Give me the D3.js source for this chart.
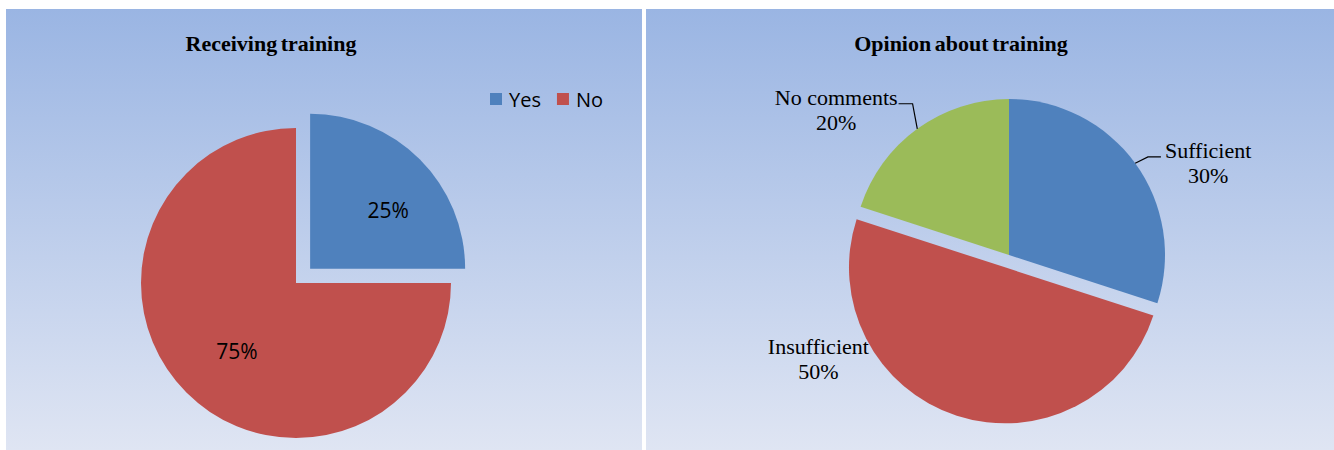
<!DOCTYPE html>
<html>
<head>
<meta charset="utf-8">
<script src="https://cdn.jsdelivr.net/npm/d3@7"></script>
<style>
  html, body { margin: 0; padding: 0; background: #ffffff; }
  svg { display: block; }
</style>
</head>
<body>
<svg id="chart" width="1334" height="450"></svg>
<script>
// ---- data ----
const trainingCategories = ["Yes", "No"];
const trainingValues = [25, 75];

const opinionCategories = ["Sufficient", "Insufficient", "No comments"];
const opinionValues = [30, 50, 20];

const trainingTitle = "Receiving training";
const opinionTitle = "Opinion about training";

// ---- styling ----
const sliceColors = {
  "Yes": "#4f81bd", "No": "#c0504d",
  "Sufficient": "#4f81bd", "Insufficient": "#c0504d", "No comments": "#9bbb59"
};

const svg = d3.select("#chart");
const defs = svg.append("defs");
const grad = defs.append("linearGradient")
  .attr("id", "panelFill").attr("x1", 0).attr("y1", 0).attr("x2", 0).attr("y2", 1);
grad.append("stop").attr("offset", "0%").attr("stop-color", "#9ab5e3");
grad.append("stop").attr("offset", "100%").attr("stop-color", "#dfe5f3");

const toRad = d => d * Math.PI / 180;
const polar = (cx, cy, angDeg, dist) => [cx + dist * Math.sin(toRad(angDeg)), cy - dist * Math.cos(toRad(angDeg))];

function panel(x, y, w, h) {
  svg.append("rect").attr("x", x).attr("y", y).attr("width", w).attr("height", h)
    .attr("fill", "url(#panelFill)");
}

function title(text, x, y) {
  svg.append("text").attr("x", x).attr("y", y)
    .attr("text-anchor", "middle")
    .attr("font-family", "'Liberation Serif', 'Times New Roman', serif")
    .attr("font-weight", "bold").attr("font-size", 22)
    .attr("word-spacing", -2)
    .attr("fill", "#000").text(text);
}

const pie = d3.pie().sort(null).value(d => d.value);

// ---- left panel: Receiving training ----
panel(6, 9, 636, 441);
title(trainingTitle, 271, 51);

{
  const cx = 296, cy = 283, r = 155;
  const explode = { "Yes": 20, "No": 0 };
  // label position: [angle in degrees, distance as fraction of radius]
  const labelPlace = { "Yes": [53, 0.63], "No": [221, 0.58] };
  const data = trainingCategories.map((c, i) => ({ cat: c, value: trainingValues[i] }));
  const arcs = pie(data);
  const arc = d3.arc().innerRadius(0).outerRadius(r);
  const g = svg.append("g").attr("transform", `translate(${cx},${cy})`);
  const total = d3.sum(trainingValues);

  arcs.forEach(a => {
    const mid = (a.startAngle + a.endAngle) / 2;
    const ex = explode[a.data.cat];
    const ox = ex * Math.sin(mid), oy = -ex * Math.cos(mid);
    const sg = g.append("g").attr("transform", `translate(${ox},${oy})`);
    sg.append("path").attr("d", arc(a)).attr("fill", sliceColors[a.data.cat]);
    const [lx, ly] = polar(0, 0, labelPlace[a.data.cat][0], labelPlace[a.data.cat][1] * r);
    sg.append("text").attr("x", lx).attr("y", ly)
      .attr("text-anchor", "middle").attr("dominant-baseline", "central")
      .attr("font-family", "'Open Sans', 'Liberation Sans', sans-serif")
      .attr("font-size", 21).attr("fill", "#000")
      .text(Math.round(a.data.value / total * 100) + "%");
  });

  // legend
  const lg = svg.append("g").attr("transform", "translate(490,93)");
  let lxPos = 0;
  trainingCategories.forEach((c, i) => {
    lg.append("rect").attr("x", lxPos).attr("y", 0).attr("width", 12).attr("height", 12)
      .attr("fill", sliceColors[c]);
    const t = lg.append("text").attr("x", lxPos + 19).attr("y", 14)
      .attr("font-family", "'Open Sans', 'Liberation Sans', sans-serif")
      .attr("font-size", 20).attr("fill", "#000").text(c);
    lxPos += 19 + t.node().getComputedTextLength() + 16;
  });
}

// ---- right panel: Opinion about training ----
panel(646, 9, 688, 441);
title(opinionTitle, 961, 51);

{
  const cx = 1009, cy = 255, r = 156;
  const explode = { "Sufficient": 0, "Insufficient": 13, "No comments": 0 };
  // label anchor (centre x, first baseline): [angle in degrees, distance as fraction of radius]
  const labelPlace = {
    "Sufficient": [64, 1.42],
    "Insufficient": [245, 1.32],
    "No comments": [311, 1.468]
  };
  const leaderSide = { "Sufficient": "left", "No comments": "right" };
  const data = opinionCategories.map((c, i) => ({ cat: c, value: opinionValues[i] }));
  const arcs = pie(data);
  const arc = d3.arc().innerRadius(0).outerRadius(r);
  const g = svg.append("g").attr("transform", `translate(${cx},${cy})`);
  const total = d3.sum(opinionValues);
  const font = "'Liberation Serif', 'Times New Roman', serif";

  arcs.forEach(a => {
    const mid = (a.startAngle + a.endAngle) / 2;
    const ex = explode[a.data.cat];
    const ox = ex * Math.sin(mid), oy = -ex * Math.cos(mid);
    const sg = g.append("g").attr("transform", `translate(${ox},${oy})`);
    sg.append("path").attr("d", arc(a)).attr("fill", sliceColors[a.data.cat]);

    const [lx, ly] = polar(0, 0, labelPlace[a.data.cat][0], labelPlace[a.data.cat][1] * r);
    const t = sg.append("text").attr("text-anchor", "middle")
      .attr("font-family", font).attr("font-size", 22).attr("fill", "#000");
    t.append("tspan").attr("x", lx).attr("y", ly).text(a.data.cat);
    t.append("tspan").attr("x", lx).attr("y", ly + 25)
      .text(Math.round(a.data.value / total * 100) + "%");

    const side = leaderSide[a.data.cat];
    if (side) {
      const w = t.select("tspan").node().getComputedTextLength();
      const p0 = [r * Math.sin(mid), -r * Math.cos(mid)];
      const p2 = side === "left" ? [lx - w / 2 - 4, ly - 1] : [lx + w / 2 + 1, ly - 1];
      const p1 = side === "left" ? [p2[0] - 13, p2[1]] : [p2[0] + 14, p2[1]];
      sg.append("path").attr("d", d3.line()([p0, p1, p2]))
        .attr("fill", "none").attr("stroke", "#000").attr("stroke-width", 1.2);
    }
  });
}
</script>
</body>
</html>
